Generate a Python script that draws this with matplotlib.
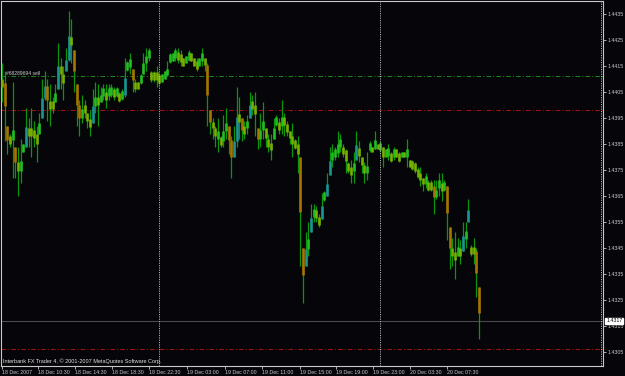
import numpy as np
import matplotlib.pyplot as plt

plt.rcParams['font.family'] = ['Liberation Sans', 'DejaVu Sans']

# M15 bars: high / low of each bar
highs = [1.4416, 1.4413, 1.4392, 1.4389, 1.4409, 1.4384, 1.4384, 1.4387, 1.4385, 1.4399,
         1.4395, 1.4399, 1.4394, 1.4392, 1.4397, 1.4410, 1.4413, 1.4410, 1.4408, 1.4403,
         1.4408, 1.4424, 1.4418, 1.4415, 1.4422, 1.4436, 1.4433, 1.4421, 1.4408, 1.4402,
         1.4404, 1.4402, 1.4397, 1.4398, 1.4406, 1.4409, 1.4408, 1.4407, 1.4408, 1.4408,
         1.4408, 1.4408, 1.4407, 1.4407, 1.4405, 1.4406, 1.4418, 1.4417, 1.4420, 1.4414,
         1.4410, 1.4409, 1.4412, 1.4420, 1.4422, 1.4422, 1.4413, 1.4413, 1.4415, 1.4412,
         1.4412, 1.4413, 1.4417, 1.4420, 1.4420, 1.4422, 1.4422, 1.4421, 1.4418, 1.4419,
         1.4421, 1.4420, 1.4418, 1.4418, 1.4418, 1.4422, 1.4418, 1.4416, 1.4398, 1.4395,
         1.4392, 1.4395, 1.4388, 1.4396, 1.4399, 1.4392, 1.4388, 1.4392, 1.4407, 1.4403,
         1.4395, 1.4394, 1.4396, 1.4405, 1.4404, 1.4405, 1.4391, 1.4397, 1.4401, 1.4391,
         1.4389, 1.4389, 1.4395, 1.4396, 1.4395, 1.4402, 1.4397, 1.4394, 1.4390, 1.4393,
         1.4387, 1.4388, 1.4380, 1.4345, 1.4351, 1.4355, 1.4362, 1.4362, 1.4361, 1.4358,
         1.4366, 1.4367, 1.4374, 1.4384, 1.4385, 1.4384, 1.4390, 1.4389, 1.4385, 1.4383,
         1.4378, 1.4379, 1.4382, 1.4390, 1.4386, 1.4380, 1.4378, 1.4382, 1.4386, 1.4384,
         1.4390, 1.4385, 1.4386, 1.4384, 1.4383, 1.4385, 1.4382, 1.4384, 1.4383, 1.4382,
         1.4382, 1.4382, 1.4387, 1.4379, 1.4379, 1.4378, 1.4376, 1.4376, 1.4372, 1.4374,
         1.4371, 1.4371, 1.4371, 1.4371, 1.4374, 1.4374, 1.4371, 1.4369, 1.4353, 1.4349,
         1.4351, 1.4349, 1.4348, 1.4355, 1.4355, 1.4364, 1.4346, 1.4349, 1.4345, 1.4330]
lows = [1.4401, 1.4386, 1.4381, 1.4384, 1.4372, 1.4372, 1.4365, 1.4370, 1.4382, 1.4384,
        1.4384, 1.4380, 1.4384, 1.4378, 1.4389, 1.4395, 1.4402, 1.4394, 1.4392, 1.4397,
        1.4401, 1.4406, 1.4406, 1.4402, 1.4413, 1.4417, 1.4416, 1.4405, 1.4392, 1.4388,
        1.4393, 1.4395, 1.4391, 1.4388, 1.4393, 1.4397, 1.4392, 1.4401, 1.4402, 1.4399,
        1.4402, 1.4403, 1.4402, 1.4403, 1.4401, 1.4402, 1.4403, 1.4413, 1.4412, 1.4405,
        1.4405, 1.4406, 1.4408, 1.4412, 1.4413, 1.4417, 1.4409, 1.4409, 1.4407, 1.4408,
        1.4409, 1.4410, 1.4411, 1.4416, 1.4417, 1.4417, 1.4416, 1.4415, 1.4415, 1.4416,
        1.4417, 1.4417, 1.4415, 1.4413, 1.4415, 1.4415, 1.4413, 1.4392, 1.4389, 1.4387,
        1.4384, 1.4382, 1.4384, 1.4384, 1.4387, 1.4381, 1.4372, 1.4380, 1.4384, 1.4387,
        1.4386, 1.4387, 1.4389, 1.4395, 1.4396, 1.4388, 1.4383, 1.4384, 1.4387, 1.4384,
        1.4382, 1.4379, 1.4387, 1.4392, 1.4389, 1.4389, 1.4388, 1.4388, 1.4385, 1.4380,
        1.4383, 1.4374, 1.4338, 1.4324, 1.4338, 1.4342, 1.4351, 1.4355, 1.4355, 1.4353,
        1.4356, 1.4363, 1.4365, 1.4373, 1.4376, 1.4379, 1.4380, 1.4382, 1.4380, 1.4374,
        1.4374, 1.4370, 1.4370, 1.4379, 1.4378, 1.4374, 1.4370, 1.4371, 1.4382, 1.4382,
        1.4383, 1.4383, 1.4382, 1.4376, 1.4380, 1.4379, 1.4378, 1.4379, 1.4380, 1.4378,
        1.4380, 1.4380, 1.4376, 1.4376, 1.4375, 1.4374, 1.4372, 1.4369, 1.4367, 1.4368,
        1.4367, 1.4367, 1.4358, 1.4364, 1.4365, 1.4363, 1.4367, 1.4348, 1.4337, 1.4338,
        1.4333, 1.4342, 1.4339, 1.4344, 1.4345, 1.4355, 1.4342, 1.4339, 1.4326, 1.4310]

# time axis labels (bar positions) and price scale
tick_pos = [0, 13.4, 27.4, 41.4, 55.3, 69.5, 83.5, 97.4, 111.7, 125.2, 139.1, 153.0, 166.9]
tick_labels = ['18 Dec 2007', '18 Dec 10:30', '18 Dec 14:30', '18 Dec 18:30', '18 Dec 22:30',
               '19 Dec 03:00', '19 Dec 07:00', '19 Dec 11:00', '19 Dec 15:00', '19 Dec 19:00',
               '19 Dec 23:00', '20 Dec 03:30', '20 Dec 07:30']
price_ticks = [1.4305, 1.4315, 1.4325, 1.4335, 1.4345, 1.4355, 1.4365,
               1.4375, 1.4385, 1.4395, 1.4405, 1.4415, 1.4425, 1.4435]
separators = [59.0, 141.7, 224.8]

sell_level = 1.4411
red_levels = [1.4398, 1.4306]
bid = 1.4317
order_text = '#68289694 sell'
footer = 'Interbank FX Trader 4, \u00a9 2001-2007 MetaQuotes Software Corp.'

BG = '#060509'
FG = '#c8c8c8'
W, H = 625, 376
BAR_PX = 477 / 179          # pixel step between bars
PIP_PX = 2.6                # pixels per pip

highs = np.array(highs)
lows = np.array(lows)
x = np.arange(len(highs))
mid = (highs + lows) / 2
opens = np.concatenate([[mid[0]], mid[:-1]])
opens = np.clip(opens, lows, highs)
closes = mid
d = closes - opens
body_lo = np.minimum(opens, closes)
body_hi = np.maximum(opens, closes)
small = (body_hi - body_lo) < 0.00025
body_lo[small] = np.maximum(lows[small], mid[small] - 0.00015)
body_hi[small] = np.minimum(highs[small], mid[small] + 0.00015)

body_colors = []
for v in d:
    if v >= 0.0004:
        body_colors.append('#1b9494')
    elif v <= -0.0004:
        body_colors.append('#a87400')
    elif v > 0:
        body_colors.append('#22be22')
    else:
        body_colors.append('#78b000')

fig = plt.figure(figsize=(W / 100, H / 100), dpi=100, facecolor=BG)
ax = fig.add_axes([1 / W, 10 / H, 602 / W, 365 / H], facecolor=BG)

ax.vlines(x, lows, highs, colors='#0c960c', linewidth=0.9, zorder=3)
ax.vlines(x, body_lo, body_hi, colors=body_colors, linewidth=1.9, zorder=4)

ax.axhline(sell_level, color='#1f7f1f', linewidth=0.75, dashes=(4.5, 2, 1, 2), zorder=2)
for lvl in red_levels:
    ax.axhline(lvl, color='#a01212', linewidth=0.75, dashes=(4.5, 2, 1, 2), zorder=2)
ax.axhline(bid, color='#4a4a4a', linewidth=0.8, zorder=2)
for s in separators:
    ax.axvline(s, color='#b4b4b4', linewidth=0.7, dashes=(1.2, 1.2), zorder=5)

ax.set_xlim((1 - 2) / BAR_PX, (603 - 2) / BAR_PX)
ax.set_ylim(1.4435 - (366 - 14) / PIP_PX * 0.0001, 1.4435 + 13 / PIP_PX * 0.0001)

ax.set_xticks(tick_pos)
ax.set_xticklabels(tick_labels)
for lbl in ax.get_xticklabels():
    lbl.set_horizontalalignment('left')
ax.set_yticks(price_ticks)
ax.set_yticklabels([f'{p:.4f}' for p in price_ticks])
ax.yaxis.tick_right()
ax.tick_params(axis='both', colors=FG, labelcolor=FG, labelsize=3.8, length=2, width=0.6, pad=1)

for sp in ax.spines.values():
    sp.set_color(FG)
    sp.set_linewidth(0.8)

ax.text(3.5 / BAR_PX, sell_level + 0.00002, order_text, color=FG, fontsize=3.6,
        va='bottom', ha='left', zorder=6)
ax.text(0.004, 0.006, footer, transform=ax.transAxes, color='#e0e0e0', fontsize=4.0,
        va='bottom', ha='left', zorder=6)
ax.annotate(f'{bid:.4f}', xy=(1, bid), xycoords=('axes fraction', 'data'),
            xytext=(2.2, 0), textcoords='offset points', va='center', ha='left',
            fontsize=3.8, color='black',
            bbox=dict(boxstyle='square,pad=0.15', facecolor='white', edgecolor='white'))

fig.savefig('out.png', dpi=100, facecolor=BG)
